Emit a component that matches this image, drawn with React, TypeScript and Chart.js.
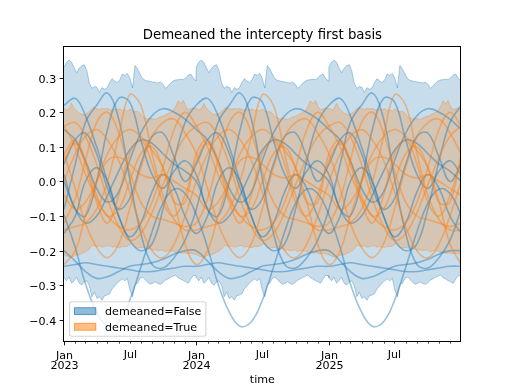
import React, { useEffect, useRef } from "react";
import { Chart, registerables } from "chart.js";

Chart.register(...registerables);

const TITLE = "Demeaned the intercepty first basis";
const X_TITLE = "time";
const SERIES_NAMES = ["demeaned=False", "demeaned=True"];
const YEARS = [2023, 2024, 2025];
const MONTH_ABBR = ["Jan", "Feb", "Mar", "Apr", "May", "Jun", "Jul", "Aug", "Sep", "Oct", "Nov", "Dec"];
const Y_TICKS = [-0.4, -0.3, -0.2, -0.1, 0.0, 0.1, 0.2, 0.3];
const Y_MIN = -0.463;
const Y_MAX = 0.391;

// Day-of-year offsets of the interval samples (weekly, plus the last day of the year)
const BAND_DAYS = [
  0, 7, 14, 21, 28, 35, 42, 49, 56, 63, 70, 77, 84, 91, 98, 105, 112, 119, 126, 133, 140, 147, 154, 161, 168, 175,
  182, 189, 196, 203, 210, 217, 224, 231, 238, 245, 252, 259, 266, 273, 280, 287, 294, 301, 308, 315, 322, 329, 336,
  343, 350, 357, 364,
];

// Interval bounds per day of year
const FALSE_UPPER = [
  0.33, 0.344, 0.351, 0.344, 0.328, 0.314, 0.327, 0.334, 0.337, 0.32, 0.284, 0.269, 0.274, 0.272, 0.257, 0.271, 0.266,
  0.27, 0.286, 0.297, 0.29, 0.285, 0.294, 0.31, 0.306, 0.312, 0.298, 0.27, 0.335, 0.325, 0.31, 0.297, 0.292, 0.29,
  0.289, 0.287, 0.286, 0.284, 0.287, 0.281, 0.269, 0.275, 0.284, 0.29, 0.293, 0.294, 0.295, 0.294, 0.299, 0.307, 0.31,
  0.298, 0.29,
];
const FALSE_LOWER = [
  -0.278, -0.287, -0.276, -0.294, -0.287, -0.277, -0.294, -0.299, -0.29, -0.287, -0.301, -0.333, -0.32, -0.338, -0.333,
  -0.343, -0.33, -0.328, -0.324, -0.31, -0.302, -0.293, -0.287, -0.281, -0.287, -0.28, -0.314, -0.333, -0.297, -0.294,
  -0.28, -0.276, -0.284, -0.291, -0.297, -0.294, -0.29, -0.295, -0.297, -0.292, -0.285, -0.281, -0.277, -0.274, -0.27,
  -0.278, -0.282, -0.286, -0.29, -0.294, -0.282, -0.271, -0.272,
];
const TRUE_UPPER = [
  0.211, 0.207, 0.209, 0.226, 0.211, 0.205, 0.197, 0.194, 0.192, 0.197, 0.202, 0.21, 0.214, 0.21, 0.208, 0.211, 0.209,
  0.211, 0.208, 0.206, 0.209, 0.207, 0.21, 0.205, 0.207, 0.203, 0.209, 0.204, 0.201, 0.202, 0.197, 0.187, 0.183, 0.18,
  0.182, 0.181, 0.179, 0.183, 0.186, 0.188, 0.192, 0.196, 0.199, 0.204, 0.216, 0.233, 0.224, 0.234, 0.216, 0.207, 0.21,
  0.212, 0.21,
];
const TRUE_LOWER = [
  -0.212, -0.215, -0.218, -0.22, -0.215, -0.212, -0.212, -0.208, -0.205, -0.201, -0.195, -0.184, -0.186, -0.188, -0.186,
  -0.19, -0.188, -0.186, -0.185, -0.19, -0.188, -0.19, -0.191, -0.188, -0.188, -0.187, -0.182, -0.178, -0.19, -0.193,
  -0.191, -0.19, -0.194, -0.194, -0.195, -0.199, -0.197, -0.2, -0.199, -0.198, -0.203, -0.2, -0.2, -0.201, -0.205,
  -0.203, -0.207, -0.206, -0.207, -0.208, -0.207, -0.209, -0.21,
];

// Sample curves, value at the start of each month (Jan..Dec)
const FALSE_CURVES = [
  [0.22, 0.24, 0.19, 0.1, 0.0, -0.1, -0.17, -0.2, -0.18, -0.08, 0.06, 0.17],
  [-0.08, 0.05, 0.17, 0.22, 0.255, 0.18, 0.01, -0.15, -0.24, -0.25, -0.22, -0.17],
  [0.02, -0.08, -0.1, 0.0, 0.15, 0.24, 0.23, 0.12, 0.02, -0.02, 0.03, 0.06],
  [-0.096, -0.191, -0.295, -0.377, -0.418, -0.405, -0.344, -0.248, -0.145, -0.063, -0.022, -0.035],
  [-0.2, -0.23, -0.26, -0.28, -0.275, -0.26, -0.245, -0.24, -0.235, -0.225, -0.21, -0.2],
  [-0.245, -0.24, -0.235, -0.24, -0.245, -0.25, -0.255, -0.26, -0.26, -0.255, -0.25, -0.245],
  [0.05, 0.12, 0.14, 0.08, -0.02, -0.08, -0.05, 0.05, 0.13, 0.14, 0.07, 0.0],
  [0.15, 0.12, 0.06, -0.02, -0.06, -0.03, 0.06, 0.14, 0.19, 0.21, 0.2, 0.18],
  [0.0, -0.08, -0.12, -0.1, -0.04, 0.03, 0.09, 0.12, 0.11, 0.08, 0.05, 0.03],
  [-0.15, -0.1, 0.0, 0.04, 0.0, -0.1, -0.16, -0.12, -0.03, 0.02, -0.02, -0.1],
];
const TRUE_CURVES = [
  [-0.14, -0.13, -0.12, -0.08, 0.0, 0.13, 0.25, 0.22, 0.08, -0.04, -0.11, -0.14],
  [-0.12, -0.05, 0.06, 0.17, 0.2, 0.14, 0.03, -0.06, -0.1, -0.11, -0.12, -0.13],
  [0.08, 0.12, 0.06, -0.04, -0.1, -0.08, 0.0, 0.08, 0.1, 0.04, -0.06, -0.06],
  [0.16, 0.1, 0.02, -0.05, -0.1, -0.13, -0.14, -0.12, -0.06, 0.04, 0.15, 0.2],
  [0.0, 0.08, 0.13, 0.15, 0.12, 0.06, -0.03, -0.13, -0.2, -0.22, -0.18, -0.1],
  [-0.04, -0.08, -0.06, 0.0, 0.06, 0.07, 0.05, 0.02, 0.01, 0.02, 0.0, -0.02],
  [0.08, -0.02, -0.12, -0.19, -0.22, -0.18, -0.08, 0.04, 0.13, 0.17, 0.18, 0.14],
  [0.06, 0.11, 0.05, -0.06, -0.12, -0.04, 0.08, 0.12, 0.05, -0.06, -0.1, -0.04],
  [-0.24, -0.2, -0.1, 0.0, 0.08, 0.13, 0.15, 0.13, 0.09, 0.04, -0.06, -0.18],
  [0.16, 0.17, 0.13, 0.05, -0.05, -0.13, -0.17, -0.15, -0.09, -0.01, 0.07, 0.13],
];

const BLUE = "31,119,180";
const ORANGE = "255,127,14";
const FONT = '"DejaVu Sans", "Liberation Sans", sans-serif';

const dayOf = (y: number, m: number, d = 1) => (Date.UTC(y, m, d) - Date.UTC(YEARS[0], 0, 1)) / 86400000;
const X_MAX = dayOf(YEARS[YEARS.length - 1], 11, 31);

const bandPoints = (vals: number[]) =>
  YEARS.flatMap((yr) => BAND_DAYS.map((d, k) => ({ x: dayOf(yr, 0, 1) + d, y: vals[k] })));

const curvePoints = (vals: number[]) =>
  YEARS.flatMap((yr) => vals.map((v, m) => ({ x: dayOf(yr, m, 1), y: v }))).concat([
    { x: dayOf(YEARS[YEARS.length - 1] + 1, 0, 1), y: vals[0] },
  ]);

const fmt = (v: number) => {
  const s = Math.abs(v).toFixed(1);
  return v < -1e-9 ? "\u2212" + s : s;
};

const decorPlugin = {
  id: "decor",
  afterDraw(chart: any) {
    const { ctx, chartArea: a, scales } = chart;
    const xs = scales.x;
    const ys = scales.y;
    ctx.save();
    ctx.fillStyle = "#000";
    ctx.strokeStyle = "#000";

    // title
    ctx.font = `13.3px ${FONT}`;
    ctx.textAlign = "center";
    ctx.textBaseline = "alphabetic";
    const cx = (a.left + a.right) / 2;
    ctx.fillText(TITLE, cx, a.top - 6.7);

    // y ticks and labels
    ctx.font = `11.1px ${FONT}`;
    ctx.textAlign = "right";
    ctx.lineWidth = 0.9;
    for (const v of Y_TICKS) {
      const py = Math.round(ys.getPixelForValue(v)) + 0.5;
      ctx.beginPath();
      ctx.moveTo(63.5 - 3.9, py);
      ctx.lineTo(63.5, py);
      ctx.stroke();
      ctx.fillText(fmt(v), 56.2, py + 4);
    }

    // x ticks (monthly) and labels
    ctx.textAlign = "center";
    const bottom = 341.5;
    for (const yr of YEARS) {
      for (let m = 0; m < 12; m++) {
        const d = dayOf(yr, m, 1);
        if (d > X_MAX) continue;
        const px = Math.round(xs.getPixelForValue(d)) + 0.5;
        const major = m === 0;
        ctx.lineWidth = major ? 0.9 : 0.7;
        ctx.beginPath();
        ctx.moveTo(px, bottom);
        ctx.lineTo(px, bottom + (major ? 3.9 : 2.2));
        ctx.stroke();
        if (major) {
          ctx.fillText(MONTH_ABBR[m], px, 359.3);
          ctx.fillText(String(yr), px, 369.4);
        } else if (m === 6) {
          ctx.fillText(MONTH_ABBR[m], px, 357.6);
        }
      }
    }

    // axis title
    ctx.fillText(X_TITLE, cx, 383);

    // frame
    ctx.lineWidth = 1;
    ctx.strokeRect(63.5, 46.5, 397, 295);

    // legend
    const fs = 11.1;
    const pad = 0.4 * fs;
    const rowH = 10.05;
    const gap = 0.5 * fs;
    const handleW = 2 * fs;
    const handleH = 0.7 * fs;
    const textPad = 0.8 * fs;
    ctx.font = `${fs}px ${FONT}`;
    const textW = Math.max(...SERIES_NAMES.map((s) => ctx.measureText(s).width));
    const lw = pad + handleW + textPad + textW + pad;
    const lh = 2 * pad + 2 * rowH + gap;
    const lx = a.left + 0.5 * fs;
    const ly = a.bottom - 0.5 * fs - lh;
    ctx.beginPath();
    ctx.roundRect(lx, ly, lw, lh, 2.2);
    ctx.fillStyle = "rgba(255,255,255,0.8)";
    ctx.fill();
    ctx.strokeStyle = "rgba(204,204,204,0.8)";
    ctx.lineWidth = 1.1;
    ctx.stroke();
    const colors = [BLUE, ORANGE];
    SERIES_NAMES.forEach((name, i) => {
      const cy = ly + pad + rowH / 2 + i * (rowH + gap);
      const hx = lx + pad;
      ctx.fillStyle = `rgba(${colors[i]},0.5)`;
      ctx.fillRect(hx, cy - handleH / 2, handleW, handleH);
      ctx.strokeStyle = `rgba(${colors[i]},0.5)`;
      ctx.lineWidth = 1;
      ctx.strokeRect(hx + 0.5, cy - handleH / 2 + 0.5, handleW - 1, handleH - 1);
      ctx.fillStyle = "#000";
      ctx.textAlign = "left";
      ctx.fillText(name, hx + handleW + textPad, cy + 4);
    });

    ctx.restore();
  },
};

export default function App() {
  const canvasRef = useRef<HTMLCanvasElement | null>(null);

  useEffect(() => {
    const canvas = canvasRef.current;
    if (!canvas) return;

    const band = (vals: number[], rgb: string, fill: any, order: number) => ({
      data: bandPoints(vals),
      borderColor: `rgba(${rgb},0.35)`,
      backgroundColor: `rgba(${rgb},0.25)`,
      borderWidth: 1,
      fill,
      order,
      tension: 0,
      pointRadius: 0,
      pointHoverRadius: 0,
    });

    const curve = (vals: number[], rgb: string, order: number) => ({
      data: curvePoints(vals),
      borderColor: `rgba(${rgb},0.45)`,
      backgroundColor: `rgba(${rgb},0.45)`,
      borderWidth: 1.6,
      fill: false,
      order,
      tension: 0.4,
      pointRadius: 0,
      pointHoverRadius: 0,
    });

    const datasets: any[] = [
      band(FALSE_UPPER, BLUE, "+1", 10),
      band(FALSE_LOWER, BLUE, false, 10),
      band(TRUE_UPPER, ORANGE, "+1", 9),
      band(TRUE_LOWER, ORANGE, false, 9),
      ...FALSE_CURVES.map((c) => curve(c, BLUE, 2)),
      ...TRUE_CURVES.map((c) => curve(c, ORANGE, 1)),
    ];

    const chart = new Chart(canvas, {
      type: "line",
      data: { datasets },
      options: {
        responsive: false,
        devicePixelRatio: 1,
        animation: false,
        events: [],
        layout: { padding: { left: 64, right: 512 - 460.8, top: 46.08, bottom: 384 - 341.76 } },
        scales: {
          x: { type: "linear", min: 0, max: X_MAX, display: false },
          y: { type: "linear", min: Y_MIN, max: Y_MAX, display: false },
        },
        plugins: {
          legend: { display: false },
          tooltip: { enabled: false },
          title: { display: false },
          filler: { drawTime: "beforeDatasetsDraw" },
        },
      } as any,
      plugins: [decorPlugin],
    });

    return () => chart.destroy();
  }, []);

  return (
    <div style={{ position: "fixed", left: 0, top: 0, width: 512, height: 384, background: "#fff" }}>
      <canvas ref={canvasRef} width={512} height={384} style={{ display: "block" }} />
    </div>
  );
}
